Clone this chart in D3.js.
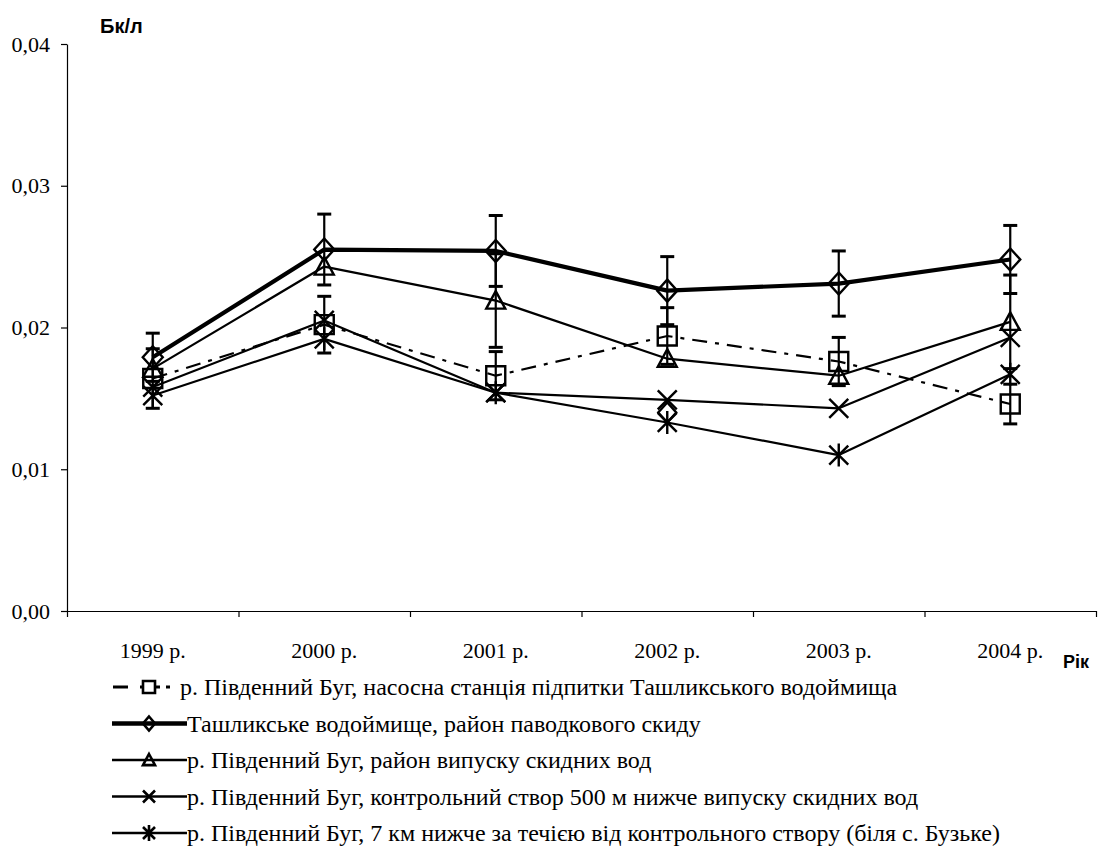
<!DOCTYPE html>
<html>
<head>
<meta charset="utf-8">
<script src="https://cdn.jsdelivr.net/npm/d3@7"></script>
<style>
  html, body { margin: 0; padding: 0; background: #fff; }
  svg { display: block; }
</style>
</head>
<body>
<svg id="chart" width="1099" height="848"></svg>
<script>
// Роки спостережень
const years = ["1999 р.", "2000 р.", "2001 р.", "2002 р.", "2003 р.", "2004 р."];
const yTicks = [0, 0.01, 0.02, 0.03, 0.04];

// Об'ємна активність, Бк/л
const pumpStation   = [0.0164, 0.0202, 0.0166, 0.0194, 0.0176, 0.0146];
const pumpErr       = [0.0021, 0.0020, 0.0017, 0.0020, 0.0017, 0.0014];
const reservoir     = [0.0179, 0.0255, 0.0254, 0.0226, 0.0231, 0.0248];
const reservoirErr  = [0.0017, 0.0025, 0.0025, 0.0024, 0.0023, 0.0024];
const dischargeArea = [0.0171, 0.0243, 0.0219, 0.0178, 0.0166, 0.0204];
const dischargeErr  = [0, 0, 0.0033, 0, 0, 0.0033];
const control500m   = [0.0158, 0.0205, 0.0154, 0.0149, 0.0143, 0.0193];
const downstream7km = [0.0152, 0.0192, 0.0154, 0.0133, 0.0110, 0.0167];
// окреме вимірювання у 2002 р.
const extraPoint    = { year: "2002 р.", value: 0.0140 };

const legendLabels = [
  "р. Південний Буг, насосна станція підпитки Ташликського водоймища",
  "Ташликське водоймище, район паводкового скиду",
  "р. Південний Буг, район випуску скидних вод",
  "р. Південний Буг, контрольний створ 500 м нижче випуску скидних вод",
  "р. Південний Буг, 7 км нижче за течією від контрольного створу (біля с. Бузьке)"
];

const series = [
  { values: pumpStation,   err: pumpErr,      marker: "square",   width: 2.2, dash: "15,8,4,8" },
  { values: reservoir,     err: reservoirErr, marker: "diamond",  width: 4.2, dash: null },
  { values: dischargeArea, err: dischargeErr, marker: "triangle", width: 2.2, dash: null },
  { values: control500m,   err: null,         marker: "cross",    width: 2.2, dash: null },
  { values: downstream7km, err: null,         marker: "asterisk", width: 2.2, dash: null }
];

const svg = d3.select("#chart");
const serif = "'Liberation Serif', 'Times New Roman', serif";
const sans = "'Liberation Sans', Arial, sans-serif";

const x = d3.scaleBand().domain(years).range([67, 1096]);
const cx = d => x(d) + x.bandwidth() / 2;
const y = d3.scaleLinear().domain([0, 0.04]).range([611, 44]);

// Вісь Y
const yAxis = svg.append("g")
  .attr("transform", "translate(67,0)")
  .call(d3.axisLeft(y).tickValues(yTicks).tickSize(6).tickSizeOuter(0).tickPadding(11)
    .tickFormat(d => d.toFixed(2).replace(".", ",")));
yAxis.selectAll("text").attr("font-family", serif).attr("font-size", 22).attr("fill", "#000");
yAxis.selectAll("line, path").attr("stroke", "#000").attr("stroke-width", 1.2);

// Вісь X: підписи по центру, поділки на межах категорій
const xAxis = svg.append("g")
  .attr("transform", "translate(0,611)")
  .call(d3.axisBottom(x).tickSize(0).tickSizeOuter(0).tickPadding(31));
xAxis.selectAll("text").attr("font-family", serif).attr("font-size", 22).attr("fill", "#000");
xAxis.select("path").attr("stroke", "#000").attr("stroke-width", 1.2);

const bounds = d3.scaleLinear().domain([0, years.length]).range(x.range());
svg.append("g")
  .attr("transform", "translate(0,611)")
  .call(d3.axisBottom(bounds).ticks(years.length).tickSize(6).tickSizeOuter(0).tickFormat(""))
  .call(g => g.select("path").remove())
  .selectAll("line").attr("stroke", "#000").attr("stroke-width", 1.2);

// Назви осей
svg.append("text").attr("x", 100).attr("y", 33)
  .attr("font-family", sans).attr("font-weight", "bold").attr("font-size", 20).text("Бк/л");
svg.append("text").attr("x", 1063).attr("y", 668)
  .attr("font-family", sans).attr("font-weight", "bold").attr("font-size", 18).text("Рік");

// Символи маркерів
function markerPath(type, s) {
  const h = s / 2;
  switch (type) {
    case "square":   return `M${-h},${-h}H${h}V${h}H${-h}Z`;
    case "diamond":  return `M0,${-h - 1}L${h},0L0,${h + 1}L${-h},0Z`;
    case "triangle": return `M0,${-h}L${h},${h * 0.85}H${-h}Z`;
    case "cross":    return `M${-h},${-h}L${h},${h}M${h},${-h}L${-h},${h}`;
    case "asterisk": return `M${-h},${-h}L${h},${h}M${h},${-h}L${-h},${h}M0,${-h - 2}V${h + 2}`;
  }
}

const plot = svg.append("g");

// Похибки
series.forEach(s => {
  if (!s.err) return;
  years.forEach((yr, i) => {
    const e = s.err[i];
    if (!e) return;
    const px = cx(yr), top = y(s.values[i] + e), bot = y(s.values[i] - e);
    plot.append("line").attr("x1", px).attr("x2", px).attr("y1", top).attr("y2", bot)
      .attr("stroke", "#000").attr("stroke-width", 2.2);
    [top, bot].forEach(v => plot.append("line")
      .attr("x1", px - 7).attr("x2", px + 7).attr("y1", v).attr("y2", v)
      .attr("stroke", "#000").attr("stroke-width", 3));
  });
});

// Лінії
const line = d3.line().x((d, i) => cx(years[i])).y(d => y(d));
series.forEach(s => {
  plot.append("path").attr("d", line(s.values))
    .attr("fill", "none").attr("stroke", "#000").attr("stroke-width", s.width)
    .attr("stroke-linejoin", "round")
    .attr("stroke-dasharray", s.dash);
});

// Маркери
const markerSize = { square: 19, diamond: 20, triangle: 19, cross: 19, asterisk: 19 };
series.forEach(s => {
  plot.selectAll(null).data(s.values).enter().append("path")
    .attr("transform", (d, i) => `translate(${cx(years[i])},${y(d)})`)
    .attr("d", markerPath(s.marker, markerSize[s.marker]))
    .attr("fill", "none").attr("stroke", "#000").attr("stroke-width", 2.4);
});
plot.append("path")
  .attr("transform", `translate(${cx(extraPoint.year)},${y(extraPoint.value)})`)
  .attr("d", markerPath("diamond", 18))
  .attr("fill", "none").attr("stroke", "#000").attr("stroke-width", 2.4);

// Легенда
const legend = svg.append("g");
series.forEach((s, i) => {
  const ly = 687 + i * 36.5;
  const g = legend.append("g").attr("transform", `translate(0,${ly})`);
  if (s.dash) {
    g.append("line").attr("x1", 113).attr("x2", 170).attr("y1", 0).attr("y2", 0)
      .attr("stroke", "#000").attr("stroke-width", 2.8).attr("stroke-dasharray", "15,12,20,6,4,20");
  } else {
    g.append("line").attr("x1", 112).attr("x2", 187).attr("y1", 0).attr("y2", 0)
      .attr("stroke", "#000").attr("stroke-width", s.width === 4.2 ? 4.5 : 2.6);
  }
  g.append("path").attr("transform", "translate(149,0)")
    .attr("d", markerPath(s.marker, 12))
    .attr("fill", s.dash ? "#fff" : "none").attr("stroke", "#000").attr("stroke-width", 2.6);
  g.append("text").attr("x", s.dash ? 180 : 187).attr("y", 8)
    .attr("font-family", serif).attr("font-size", 24).text(legendLabels[i]);
});
</script>
</body>
</html>
